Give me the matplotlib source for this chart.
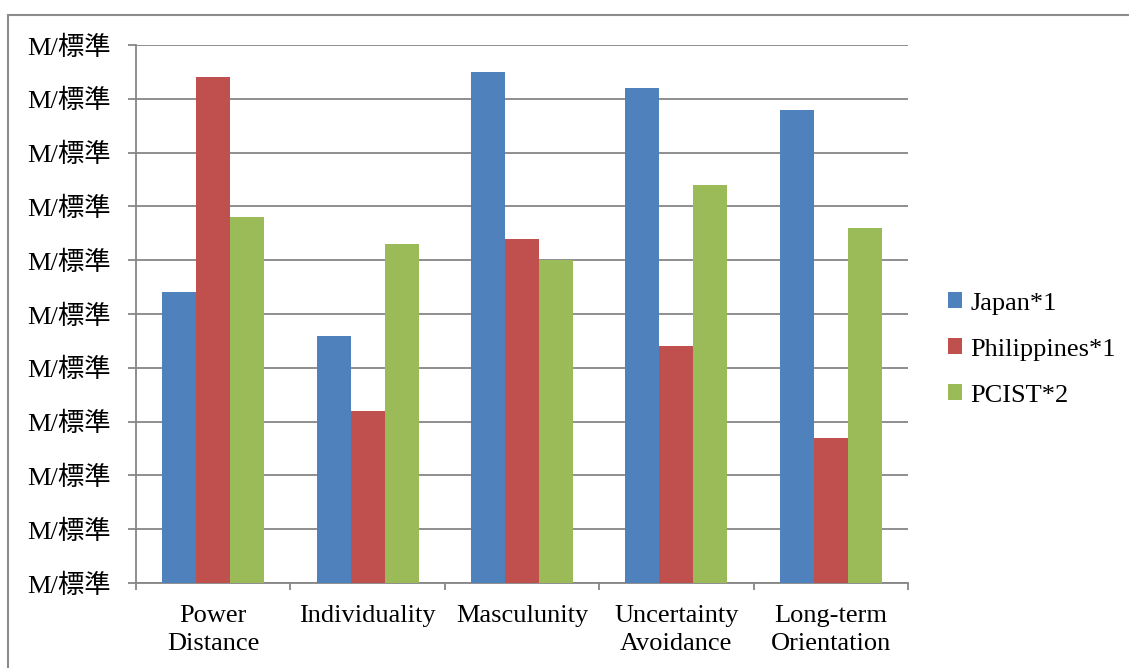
import matplotlib.pyplot as plt
from matplotlib.patches import Rectangle
import numpy as np

plt.rcParams['font.family'] = ['Liberation Serif', 'Noto Sans CJK JP', 'DejaVu Sans']

categories = ['Power\nDistance', 'Individuality', 'Masculunity', 'Uncertainty\nAvoidance', 'Long-term\nOrientation']
japan = [54, 46, 95, 92, 88]
philippines = [94, 32, 64, 44, 27]
pcist = [68, 63, 60, 74, 66]
series_names = ['Japan*1', 'Philippines*1', 'PCIST*2']
colors = ['#4F81BD', '#C0504D', '#9BBB59']
yticks = list(range(0, 101, 10))
ytick_labels = ['M/標準'] * len(yticks)

fig = plt.figure(figsize=(11.29, 6.68), dpi=100)
ax = fig.add_axes([136 / 1129, 85 / 668, 772 / 1129, 538 / 668])

# outer chart frame
fig.patches.append(Rectangle((8 / 1129, -0.1), 1.1, 1.1 - 15 / 668,
                             transform=fig.transFigure, fill=False,
                             edgecolor='#8c8c8c', linewidth=1.5))

x = np.arange(len(categories))
w = 0.22
for i, (vals, name, c) in enumerate(zip([japan, philippines, pcist], series_names, colors)):
    ax.bar(x + (i - 1) * w, vals, w, color=c, label=name, zorder=3)

fs = 19
ax.set_xlim(-0.5, 4.5)
ax.set_ylim(0, 100)
ax.set_yticks(yticks)
ax.set_yticklabels(ytick_labels, fontsize=fs)
ax.set_xticks(x)
ax.set_xticklabels(categories, fontsize=fs, linespacing=1.35)
ax.tick_params(axis='x', length=0, pad=16)
ax.tick_params(axis='y', length=6, color='#868686', width=1.3, pad=12)
ax.set_xticks(np.arange(-0.5, 4.6, 1), minor=True)
ax.tick_params(axis='x', which='minor', length=5, color='#868686', width=1.3)

ax.grid(axis='y', color='#868686', linewidth=1.3, zorder=0)
ax.set_axisbelow(True)
for s in ['top', 'right']:
    ax.spines[s].set_visible(False)
for s in ['left', 'bottom']:
    ax.spines[s].set_color('#868686')
    ax.spines[s].set_linewidth(1.3)

ax.legend(loc='center left', bbox_to_anchor=(1.021, 0.434), frameon=False,
          fontsize=fs, handlelength=0.55, handleheight=0.55, handletextpad=0.3,
          labelspacing=0.9)

fig.savefig('out.png', dpi=100)
